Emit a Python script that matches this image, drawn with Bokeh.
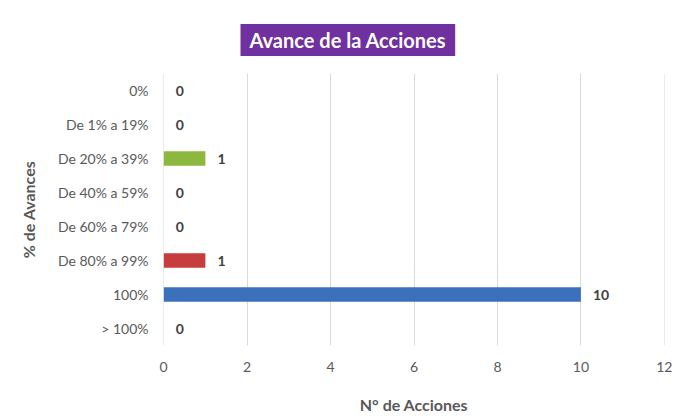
from bokeh.plotting import figure
from bokeh.models import ColumnDataSource, Title
from bokeh.core.properties import value
from bokeh.embed import file_html
from bokeh.resources import INLINE

categories = ["0%", "De 1% a 19%", "De 20% a 39%", "De 40% a 59%",
              "De 60% a 79%", "De 80% a 99%", "100%", "> 100%"]
counts = [0, 0, 1, 0, 0, 1, 10, 0]
bar_colors = ["#4f81bd", "#4f81bd", "#8cb83f", "#4f81bd",
              "#4f81bd", "#c73c3c", "#3b70bd", "#4f81bd"]
x_ticks = [0, 2, 4, 6, 8, 10, 12]
title_text = "Avance de la Acciones"
x_title = "N° de Acciones"
y_title = "% de Avances"

src = ColumnDataSource(dict(cat=categories, n=counts, color=bar_colors,
                            lab=[str(v) for v in counts]))

FONT = "Lato"
p = figure(width=685, height=417, y_range=list(reversed(categories)),
           x_range=(-0.004, 12.004), output_backend="svg", toolbar_location=None,
           min_border_left=163, min_border_right=21, min_border_top=73,
           min_border_bottom=72, title=None)

p.add_layout(Title(text=title_text, align="left", offset=77,
                   text_font=FONT, text_font_size="20px", text_font_style="bold",
                   text_color="white", background_fill_color="#7030a0",
                   padding=(9, 4), standoff=35), "above")

p.hbar(y="cat", right="n", left=0, height=0.42, color="color", source=src,
       line_color=None)
p.text(x="n", y="cat", text="lab", source=src, x_offset=12,
       text_align="left", text_baseline="middle",
       text_font=value(FONT), text_font_size="14px", text_font_style="bold",
       text_color="#404040")

p.outline_line_color = None
p.ygrid.grid_line_color = None
p.xgrid.grid_line_color = "#d9d9d9"
p.xaxis.ticker = x_ticks
p.axis.axis_line_color = None
p.axis.major_tick_line_color = None
p.axis.minor_tick_line_color = None
p.axis.major_tick_out = 0
p.axis.major_tick_in = 0
p.axis.minor_tick_out = 0
p.axis.major_label_text_font = FONT
p.axis.major_label_text_font_size = "14px"
p.axis.major_label_text_color = "#595959"
p.axis.axis_label_text_font = FONT
p.axis.axis_label_text_font_size = "16px"
p.axis.axis_label_text_font_style = "bold"
p.axis.axis_label_text_color = "#595959"
p.xaxis.axis_label = x_title
p.yaxis.axis_label = y_title
p.xaxis.major_label_standoff = 16
p.yaxis.major_label_standoff = 15
p.xaxis.axis_label_standoff = 20
p.yaxis.axis_label_standoff = 17

open("out.html", "w").write(file_html(p, INLINE))
